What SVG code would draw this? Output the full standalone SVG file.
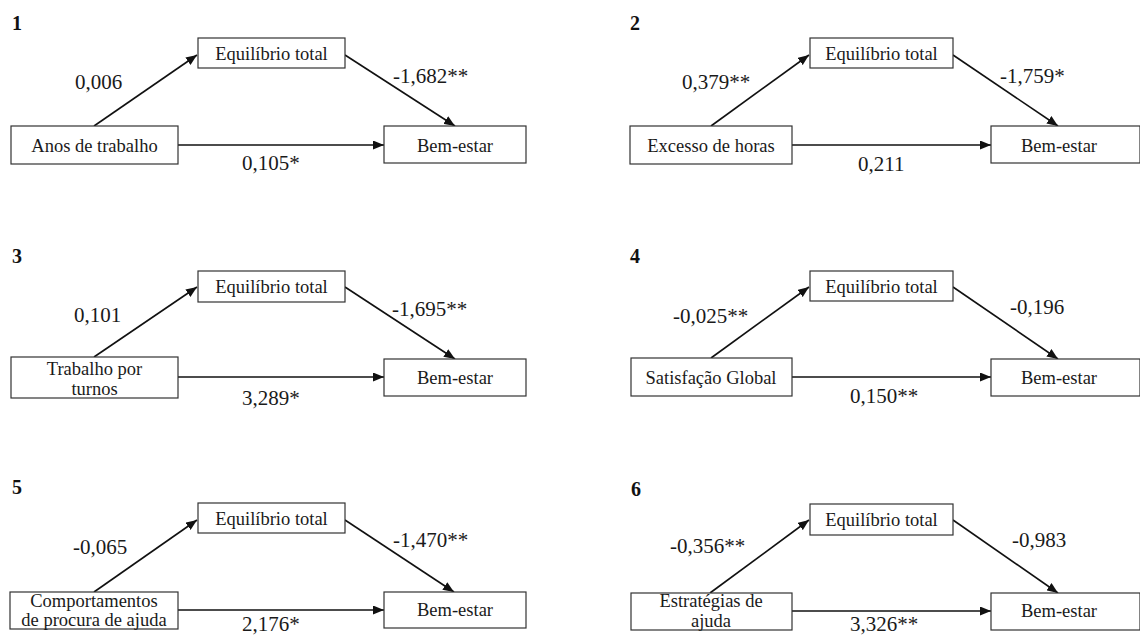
<svg xmlns="http://www.w3.org/2000/svg" width="1140" height="637" viewBox="0 0 1140 637" font-family="'Liberation Serif', Tinos, 'Times New Roman', 'DejaVu Serif', serif">
<defs>
<marker id="ah" markerUnits="userSpaceOnUse" markerWidth="11" markerHeight="9" refX="11" refY="4.5" orient="auto">
<path d="M0,0 L11,4.5 L0,9 z" fill="#111"/>
</marker>
</defs>
<style>
.box{fill:#fff;stroke:#333;stroke-width:1.2}
.bt{font-size:18.5px;fill:#1a1a1a;text-anchor:middle}
.lb{font-size:21px;fill:#1a1a1a}
.num{font-size:20px;font-weight:bold;fill:#111}
.ar{stroke:#111;stroke-width:1.6;fill:none;marker-end:url(#ah)}
</style>
<rect width="1140" height="637" fill="#fff"/>

<g id="panel-numbers">
<text class="num" x="12" y="30">1</text>
<text class="num" x="630" y="30">2</text>
<text class="num" x="12" y="263">3</text>
<text class="num" x="630" y="263">4</text>
<text class="num" x="12" y="494">5</text>
<text class="num" x="631" y="496">6</text>
</g>

<g id="connectors">
<line class="ar" x1="94" y1="126" x2="197" y2="55"/>
<line class="ar" x1="345" y1="55" x2="455" y2="126"/>
<line class="ar" x1="178" y1="145" x2="384" y2="145"/>

<line class="ar" x1="711" y1="126" x2="809" y2="55"/>
<line class="ar" x1="953" y1="55" x2="1058" y2="126"/>
<line class="ar" x1="792" y1="145" x2="991" y2="145"/>

<line class="ar" x1="94" y1="357" x2="197" y2="287"/>
<line class="ar" x1="345" y1="287" x2="455" y2="359"/>
<line class="ar" x1="178" y1="377" x2="384" y2="377"/>

<line class="ar" x1="711" y1="358" x2="809" y2="287"/>
<line class="ar" x1="953" y1="287" x2="1058" y2="359"/>
<line class="ar" x1="792" y1="377" x2="991" y2="377"/>

<line class="ar" x1="94" y1="592" x2="197" y2="520"/>
<line class="ar" x1="345" y1="520" x2="454" y2="592"/>
<line class="ar" x1="178" y1="610" x2="384" y2="610"/>

<line class="ar" x1="710" y1="593" x2="809" y2="520"/>
<line class="ar" x1="953" y1="520" x2="1058" y2="593"/>
<line class="ar" x1="792" y1="611" x2="991" y2="611"/>
</g>

<g id="labels">
<text class="lb" x="75" y="89">0,006</text>
<text class="lb" x="393" y="83">-1,682**</text>
<text class="lb" x="242" y="170">0,105*</text>

<text class="lb" x="682" y="89">0,379**</text>
<text class="lb" x="1000" y="83">-1,759*</text>
<text class="lb" x="858" y="171">0,211</text>

<text class="lb" x="74" y="322">0,101</text>
<text class="lb" x="392" y="316">-1,695**</text>
<text class="lb" x="242" y="405">3,289*</text>

<text class="lb" x="673" y="323">-0,025**</text>
<text class="lb" x="1010" y="314">-0,196</text>
<text class="lb" x="850" y="403">0,150**</text>

<text class="lb" x="73" y="554">-0,065</text>
<text class="lb" x="393" y="547">-1,470**</text>
<text class="lb" x="242" y="631">2,176*</text>

<text class="lb" x="670" y="553">-0,356**</text>
<text class="lb" x="1012" y="547">-0,983</text>
<text class="lb" x="850" y="631">3,326**</text>
</g>

<g id="p1-mediator"><rect class="box" x="198" y="38" width="147" height="30"/><text class="bt" x="271.5" y="60">Equilíbrio total</text></g>
<g id="p1-predictor"><rect class="box" x="11" y="126" width="167" height="38"/><text class="bt" x="94.5" y="152">Anos de trabalho</text></g>
<g id="p1-outcome"><rect class="box" x="384" y="126" width="142" height="37"/><text class="bt" x="455" y="152">Bem-estar</text></g>

<g id="p2-mediator"><rect class="box" x="810" y="38" width="143" height="30"/><text class="bt" x="881.5" y="60">Equilíbrio total</text></g>
<g id="p2-predictor"><rect class="box" x="630" y="126" width="162" height="38"/><text class="bt" x="711" y="152">Excesso de horas</text></g>
<g id="p2-outcome"><rect class="box" x="991" y="126" width="149" height="37"/><text class="bt" x="1059" y="152">Bem-estar</text></g>

<g id="p3-mediator"><rect class="box" x="198" y="271" width="147" height="31"/><text class="bt" x="271.5" y="293">Equilíbrio total</text></g>
<g id="p3-predictor"><rect class="box" x="11" y="357" width="167" height="41"/><text class="bt" x="94.5" y="375">Trabalho por</text><text class="bt" x="94.5" y="395">turnos</text></g>
<g id="p3-outcome"><rect class="box" x="384" y="359" width="142" height="37"/><text class="bt" x="455" y="384">Bem-estar</text></g>

<g id="p4-mediator"><rect class="box" x="810" y="271" width="143" height="30"/><text class="bt" x="881.5" y="293">Equilíbrio total</text></g>
<g id="p4-predictor"><rect class="box" x="631" y="358" width="161" height="38"/><text class="bt" x="711" y="384">Satisfação Global</text></g>
<g id="p4-outcome"><rect class="box" x="991" y="359" width="149" height="37"/><text class="bt" x="1059" y="384">Bem-estar</text></g>

<g id="p5-mediator"><rect class="box" x="198" y="503" width="147" height="30"/><text class="bt" x="271.5" y="525">Equilíbrio total</text></g>
<g id="p5-predictor"><rect class="box" x="10" y="592" width="168" height="37"/><text class="bt" x="94" y="607">Comportamentos</text><text class="bt" x="94" y="626">de procura de ajuda</text></g>
<g id="p5-outcome"><rect class="box" x="384" y="592" width="142" height="36"/><text class="bt" x="455" y="616">Bem-estar</text></g>

<g id="p6-mediator"><rect class="box" x="810" y="504" width="143" height="31"/><text class="bt" x="881.5" y="526">Equilíbrio total</text></g>
<g id="p6-predictor"><rect class="box" x="631" y="593" width="161" height="37"/><text class="bt" x="711" y="607">Estratégias de</text><text class="bt" x="711" y="627">ajuda</text></g>
<g id="p6-outcome"><rect class="box" x="991" y="593" width="149" height="37"/><text class="bt" x="1059" y="617">Bem-estar</text></g>
</svg>
